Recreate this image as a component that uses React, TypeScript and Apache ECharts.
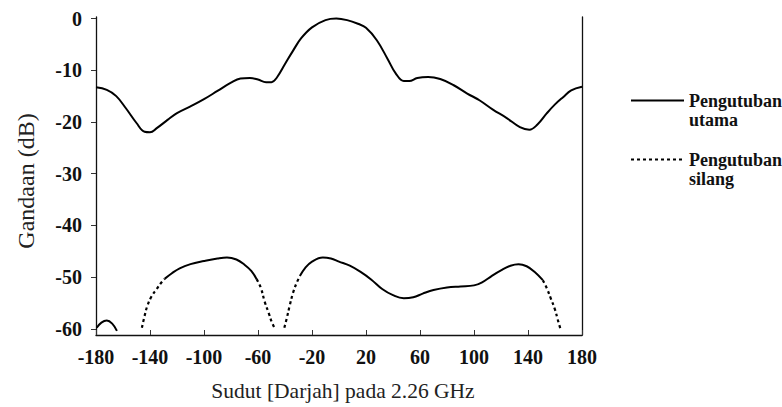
import React, { useEffect, useRef } from "react";
import * as echarts from "echarts";

const xTicks = [-180, -140, -100, -60, -20, 20, 60, 100, 140, 180];
const yTicks = [0, -10, -20, -30, -40, -50, -60];

const mainAngles = [-180, -172, -165, -158, -150, -144, -140, -135, -127, -120, -110, -100, -90, -80, -73, -66, -60, -54, -50, -46, -40, -34, -28, -20, -10, -2, 6, 14, 20, 28, 36, 42, 48, 52, 58, 66, 75, 85, 95, 104, 114, 124, 134, 141, 147, 154, 160, 166, 172, 180];
const mainGain = [-13.3, -13.8, -15.0, -17.3, -20.2, -21.9, -22.0, -21.2, -19.6, -18.3, -17.0, -15.6, -14.0, -12.4, -11.6, -11.5, -11.8, -12.3, -12.3, -11.4, -8.8, -6.2, -3.8, -1.7, -0.3, 0, -0.3, -1.0, -1.8, -4.2, -7.8, -10.6, -12.1, -12.1, -11.5, -11.3, -11.7, -12.9, -14.5, -15.8, -17.6, -19.2, -21.0, -21.5, -20.5, -18.3, -16.6, -15.2, -13.9, -13.2];

// cross polarisation: flat parts (drawn solid in the scan), null = gap
const crossSolidAngles = [-179.5, -176, -172, -168, -164.5, null, -129, -124, -118, -110, -100, -90, -83, -76, -70, -65, -61, null, -29, -25, -20, -12, -6, 0, 8, 16, 24, 32, 40, 48, 55, 62, 70, 80, 90, 100, 106, 113, 120, 127, 133, 139, 145, 151];
const crossSolidGain = [-59.8, -58.8, -58.4, -59.0, -60.4, null, -50.3, -49.3, -48.3, -47.5, -46.9, -46.4, -46.2, -46.6, -47.6, -48.8, -50.4, null, -49.8, -48.2, -47.0, -46.2, -46.4, -47.0, -47.8, -49.0, -50.5, -52.3, -53.5, -54.1, -53.9, -53.2, -52.5, -52.0, -51.8, -51.6, -51.0, -49.8, -48.7, -47.8, -47.5, -47.9, -49.0, -50.6];

// cross polarisation: steep parts (dotted in the scan)
const crossDotAngles = [-146, -144, -142, -139, -135, -132, -129, null, -61, -58, -55, -52, -49.8, -47.5, null, -40.5, -38.8, -36.5, -34, -31.5, -29, null, 151, 154, 157, 160, 162, 164];
const crossDotGain = [-59.8, -57.5, -55.6, -53.8, -52.3, -51.2, -50.3, null, -50.4, -52.0, -54.8, -57.0, -58.7, -60.0, null, -59.8, -58.1, -55.5, -53.0, -51.2, -49.8, null, -50.6, -52.2, -54.2, -56.3, -58.2, -60.0];

const pairs = (xs: (number | null)[], ys: (number | null)[]) =>
  xs.map((x, i) => (x === null || ys[i] === null ? [null, null] : [x, ys[i]]));

const SERIF = "'Liberation Serif', 'Times New Roman', serif";

export default function App() {
  const ref = useRef<HTMLDivElement>(null);
  useEffect(() => {
    if (!ref.current) return;
    const chart = echarts.init(ref.current, null, { renderer: "svg" });
    const tickLabel = { fontFamily: SERIF, fontWeight: "bold", fontSize: 20, color: "#111" };
    chart.setOption({
      animation: false,
      backgroundColor: "#fff",
      grid: { left: 96, right: 200, top: 17, bottom: 71 },
      legend: {
        orient: "vertical",
        left: 630,
        top: 72,
        padding: 0,
        itemGap: 2,
        itemWidth: 53,
        itemHeight: 14,
        itemStyle: { opacity: 0 },
        data: ["Pengutuban utama", "Pengutuban silang"],
        formatter: (n: string) => "\n" + n.replace(" ", "\n"),
        textStyle: {
          fontFamily: SERIF,
          fontWeight: "bold",
          fontSize: 18,
          lineHeight: 19,
          color: "#111",
        },
      },
      xAxis: {
        type: "value",
        min: -180,
        max: 180,
        name: "Sudut [Darjah] pada 2.26 GHz",
        nameLocation: "middle",
        nameGap: 45,
        nameTextStyle: { fontFamily: SERIF, fontSize: 21.5, color: "#222", padding: [0, 0, 0, 8] },
        axisLine: { show: true, onZero: false, lineStyle: { color: "#111", width: 1.3 } },
        axisTick: { show: true, inside: true, length: 5, customValues: xTicks, lineStyle: { color: "#333" } },
        axisLabel: { ...tickLabel, margin: 12, customValues: xTicks },
        splitLine: { show: false },
      },
      yAxis: [
        {
          type: "value",
          min: -61.2,
          max: 0.3,
          name: "Gandaan (dB)",
          nameLocation: "middle",
          nameGap: 58,
          nameTextStyle: { fontFamily: SERIF, fontSize: 24, color: "#222", padding: [0, 10, 0, 0] },
          axisLine: { show: true, onZero: false, lineStyle: { color: "#111", width: 1.3 } },
          axisTick: { show: true, inside: false, length: 5, customValues: yTicks, lineStyle: { color: "#333" } },
          axisLabel: { ...tickLabel, margin: 14, customValues: yTicks },
          splitLine: { show: false },
        },
        {
          type: "value",
          min: -61.2,
          max: 0.3,
          position: "right",
          axisLine: { show: true, onZero: false, lineStyle: { color: "#111", width: 1.3 } },
          axisTick: { show: false },
          axisLabel: { show: false },
          splitLine: { show: false },
        },
      ],
      series: [
        {
          name: "Pengutuban utama",
          type: "line",
          data: pairs(mainAngles, mainGain),
          smooth: 0.4,
          symbol: "none",
          lineStyle: { color: "#000", width: 2 },
          itemStyle: { color: "#000" },
        },
        {
          name: "Pengutuban silang",
          type: "line",
          data: pairs(crossDotAngles, crossDotGain),
          smooth: 0.4,
          symbol: "none",
          connectNulls: false,
          lineStyle: { color: "#000", width: 2.2, type: [3, 3] },
          itemStyle: { color: "#000" },
        },
        {
          name: "Pengutuban silang",
          type: "line",
          data: pairs(crossSolidAngles, crossSolidGain),
          smooth: 0.4,
          symbol: "none",
          connectNulls: false,
          lineStyle: { color: "#000", width: 2 },
          itemStyle: { color: "#000" },
        },
      ],
    });
    return () => chart.dispose();
  }, []);
  return (
    <div
      ref={ref}
      style={{ position: "fixed", left: 0, top: 0, width: 782, height: 407 }}
    />
  );
}
